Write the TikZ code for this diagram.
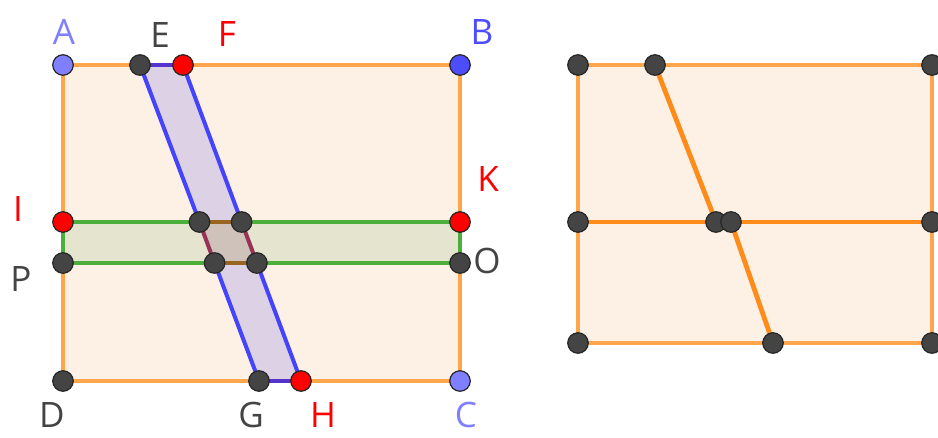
\documentclass[tikz,border=0pt]{standalone}
\usepackage{fontspec}
\setmainfont{Open Sans}
\begin{document}
\begin{tikzpicture}[x=1pt,y=-1pt,
  dot/.style={circle,draw=black!85,line width=1.2pt,minimum size=20.5pt,inner sep=0pt},
  lab/.style={font=\fontsize{35}{35}\selectfont,inner sep=0pt},
  oline/.style={draw=orgline,line width=4.8pt},
  sline/.style={draw=orgdark,line width=4.8pt}]
\definecolor{orgline}{HTML}{FFA64D}
\definecolor{orgdark}{HTML}{FF8C1A}
\definecolor{orgfill}{HTML}{FDF0E4}
\definecolor{lav}{HTML}{DCD1E5}
\definecolor{bl}{HTML}{4444FF}
\definecolor{blp}{HTML}{5533CC}
\definecolor{grn}{HTML}{4CAF3C}
\definecolor{grnfill}{HTML}{E5E4CF}
\definecolor{xfill}{HTML}{CEC2BA}
\definecolor{brn}{HTML}{996622}
\definecolor{mar}{HTML}{993355}
\definecolor{ltblue}{HTML}{7F7FFF}
\definecolor{dkblue}{HTML}{4D4DFF}
\definecolor{dk}{HTML}{444444}
\definecolor{gtext}{HTML}{444444}
\useasboundingbox (0,0) rectangle (938,437);
% ---- left figure coordinates
\coordinate (A) at (63,65);
\coordinate (B) at (460,65);
\coordinate (C) at (460,381);
\coordinate (D) at (63,381);
\coordinate (E) at (140,65);
\coordinate (F) at (183,65);
\coordinate (G) at (259,381);
\coordinate (H) at (301,381);
\coordinate (I) at (63,222);
\coordinate (K) at (460,222);
\coordinate (P) at (63,263);
\coordinate (O) at (460,263);
\coordinate (X1) at (199.5,222);
\coordinate (X2) at (241.6,222);
\coordinate (X3) at (214.6,263);
\coordinate (X4) at (256.9,263);
% fills
\fill[orgfill] (A) -- (B) -- (C) -- (D) -- cycle;
\fill[lav] (E) -- (F) -- (H) -- (G) -- cycle;
\fill[grnfill] (I) -- (K) -- (O) -- (P) -- cycle;
\fill[xfill] (X1) -- (X2) -- (X4) -- (X3) -- cycle;
% rectangle
\draw[oline] (E) -- (A) -- (I) (F) -- (B) -- (K) (O) -- (C) -- (H) (G) -- (D) -- (P);
% strip EFHG
\draw[bl,line width=4pt] (E) -- (X1) (X3) -- (G);
\draw[bl,line width=4pt] (F) -- (X2) (X4) -- (H);
\draw[blp,line width=4pt] (E) -- (F) (G) -- (H);
% strip IKOP
\draw[grn,line width=4pt] (I) -- (X1) (X2) -- (K) -- (O) -- (X4) (X3) -- (P) -- (I);
% intersection
\draw[brn,line width=4pt] (X1) -- (X2) (X3) -- (X4);
\draw[mar,line width=4pt] (X1) -- (X3) (X2) -- (X4);
% dots
\node[dot,fill=ltblue] (dA) at (A) {};
\node[dot,fill=dkblue] (dB) at (B) {};
\node[dot,fill=ltblue] (dC) at (C) {};
\node[dot,fill=dk] (dD) at (D) {};
\node[dot,fill=dk] (dE) at (E) {};
\node[dot,fill=red] (dF) at (F) {};
\node[dot,fill=dk] (dG) at (G) {};
\node[dot,fill=red] (dH) at (H) {};
\node[dot,fill=red] (dI) at (I) {};
\node[dot,fill=red] (dK) at (K) {};
\node[dot,fill=dk] (dP) at (P) {};
\node[dot,fill=dk] (dO) at (O) {};
\node[dot,fill=dk] (dX1) at (X1) {};
\node[dot,fill=dk] (dX2) at (X2) {};
\node[dot,fill=dk] (dX3) at (X3) {};
\node[dot,fill=dk] (dX4) at (X4) {};
% labels
\node[lab,text=ltblue] (lA) at (64,32) {A};
\node[lab,text=dkblue] (lB) at (482,32) {B};
\node[lab,text=ltblue] (lC) at (466,415) {C};
\node[lab,text=gtext] (lD) at (52,415) {D};
\node[lab,text=gtext] (lE) at (160,35) {E};
\node[lab,text=red] (lF) at (227,34) {F};
\node[lab,text=gtext] (lG) at (251,415) {G};
\node[lab,text=red] (lH) at (323,415) {H};
\node[lab,text=red] (lI) at (18,209) {I};
\node[lab,text=red] (lK) at (488,179) {K};
\node[lab,text=gtext] (lP) at (21,279) {P};
\node[lab,text=gtext] (lO) at (487,261) {O};
% ---- right figure
\coordinate (R1) at (578,65);
\coordinate (R2) at (655,65);
\coordinate (R3) at (932,65);
\coordinate (R4) at (578,222);
\coordinate (R5) at (716,222);
\coordinate (R6) at (731,222);
\coordinate (R7) at (932,222);
\coordinate (R8) at (578,343);
\coordinate (R9) at (773,343);
\coordinate (R10) at (932,343);
\fill[orgfill] (R1) -- (R3) -- (R10) -- (R8) -- cycle;
\draw[oline] (R1) -- (R3) -- (R10) -- (R8) -- cycle;
\draw[sline] (R4) -- (R7);
\draw[sline] (R2) -- (R5) (R6) -- (R9);
\foreach \r in {R1,R2,R3,R4,R5,R6,R7,R8,R9,R10}
  \node[dot,fill=dk] (d\r) at (\r) {};
\end{tikzpicture}
\end{document}
